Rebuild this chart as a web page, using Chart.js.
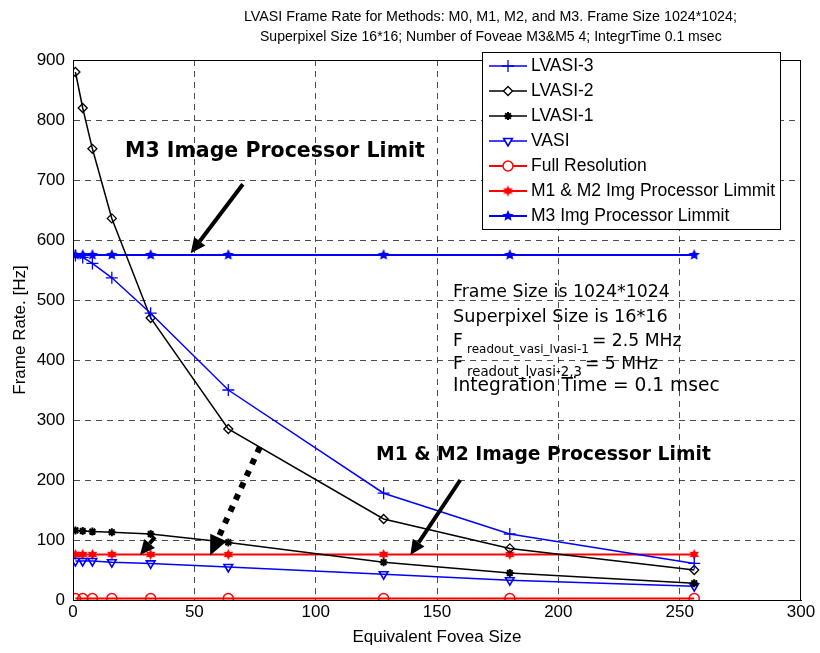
<!DOCTYPE html>
<html>
<head>
<meta charset="utf-8">
<script src="https://cdn.jsdelivr.net/npm/chart.js@4/dist/chart.umd.min.js"></script>
<style>
  html, body { margin: 0; padding: 0; background: #fff; }
  #wrap { width: 820px; height: 653px; }
</style>
</head>
<body>
<div id="wrap"><canvas id="rateChart" width="820" height="653"></canvas></div>
<script>
// data
const foveaSize = [1, 4, 8, 16, 32, 64, 128, 180, 256];
const lvasi3 = [574, 571, 561, 537, 478, 350, 178, 110, 61];
const lvasi2 = [880, 820, 752, 636, 470, 285, 135, 86, 50];
const lvasi1 = [116, 115, 114, 113, 110, 96, 63, 45, 28];
const vasi = [65, 65, 65, 63, 61, 55, 43, 33, 23];
const fullRes = [2.4, 2.4, 2.4, 2.4, 2.4, 2.4, 2.4, 2.4, 2.4];
const m12Limit = [76, 76, 76, 76, 76, 76, 76, 76, 76];
const m3Limit = [575, 575, 575, 575, 575, 575, 575, 575, 575];

const xTicks = [0, 50, 100, 150, 200, 250, 300];
const yTicks = [0, 100, 200, 300, 400, 500, 600, 700, 800, 900];

const titleLines = [
    'LVASI Frame Rate for Methods: M0, M1, M2, and M3. Frame Size 1024*1024;',
    'Superpixel Size 16*16; Number of Foveae M3&M5 4; IntegrTime 0.1 msec'
];

// arrows in data units: [fromX, fromY, toX, toY, dotted]
const arrows = [
    [70, 693, 48.5, 578, false],
    [159.6, 200, 139, 75, false],
    [33.8, 105, 27.6, 75, false],
    [77, 255, 56.5, 74, true]
];

// custom marker images
function starImage(points, color, outer, inner) {
    const size = outer * 2 + 2;
    const c = document.createElement('canvas');
    c.width = size; c.height = size;
    const g = c.getContext('2d');
    g.fillStyle = color;
    g.beginPath();
    for (let i = 0; i < points * 2; i++) {
        const r = i % 2 === 0 ? outer : inner;
        const a = -Math.PI / 2 + i * Math.PI / points;
        const px = size / 2 + r * Math.cos(a);
        const py = size / 2 + r * Math.sin(a);
        if (i === 0) g.moveTo(px, py); else g.lineTo(px, py);
    }
    g.closePath();
    g.fill();
    return c;
}
const pentagram = starImage(5, '#0000ff', 6, 2.8);
const hexagram = starImage(6, '#ff0000', 5.5, 3);

function series(label, data, color, style, extra) {
    return Object.assign({
        label: label,
        data: foveaSize.map((x, i) => ({ x: x, y: data[i] })),
        borderColor: color,
        backgroundColor: 'rgba(0,0,0,0)',
        pointBorderColor: color,
        pointBackgroundColor: 'rgba(0,0,0,0)',
        pointStyle: style,
        pointRadius: 4,
        pointBorderWidth: 1.3,
        borderWidth: 1.5,
        tension: 0,
        fill: false
    }, extra || {});
}

const datasets = [
    series('LVASI-3', lvasi3, '#0000ff', 'cross', { pointRadius: 6 }),
    series('LVASI-2', lvasi2, '#000000', 'rectRot', { pointRadius: 4.5 }),
    series('LVASI-1', lvasi1, '#000000', 'star', { pointRadius: 4, pointBorderWidth: 2 }),
    series('VASI', vasi, '#0000ff', 'triangle', { pointRadius: 5, pointRotation: 180, pointBorderWidth: 1.6 }),
    series('Full Resolution', fullRes, '#ff0000', 'circle', { pointRadius: 5, pointBorderWidth: 1.5, borderWidth: 2 }),
    series('M1 & M2 Img Processor Limmit', m12Limit, '#ff0000', hexagram, { borderWidth: 2 }),
    series('M3 Img Processor Limmit', m3Limit, '#0000ff', pentagram, { borderWidth: 2 })
];

function drawArrow(ctx, x1, y1, x2, y2, dotted) {
    const ang = Math.atan2(y2 - y1, x2 - x1);
    const headLen = dotted ? 20 : 15;
    const headW = dotted ? 9 : 7;
    const bx = x2 - headLen * Math.cos(ang);
    const by = y2 - headLen * Math.sin(ang);
    ctx.save();
    ctx.strokeStyle = '#000';
    ctx.fillStyle = '#000';
    ctx.lineWidth = dotted ? 6 : 4;
    if (dotted) ctx.setLineDash([6, 7]);
    ctx.beginPath();
    ctx.moveTo(x1, y1);
    ctx.lineTo(bx, by);
    ctx.stroke();
    ctx.setLineDash([]);
    ctx.beginPath();
    ctx.moveTo(x2, y2);
    ctx.lineTo(bx + headW * Math.sin(ang), by - headW * Math.cos(ang));
    ctx.lineTo(bx - headW * Math.sin(ang), by + headW * Math.cos(ang));
    ctx.closePath();
    ctx.fill();
    ctx.restore();
}

// draws text scaled so it takes the given width
function fitText(ctx, text, x, y, width, weight, family) {
    let size = 24;
    ctx.font = weight + ' ' + size + 'px ' + family;
    size = size * width / ctx.measureText(text).width;
    ctx.font = weight + ' ' + size + 'px ' + family;
    ctx.fillText(text, x, y);
}

const extrasPlugin = {
    id: 'extras',
    afterDraw(chart) {
        const ctx = chart.ctx;
        const area = chart.chartArea;
        const xs = chart.scales.x;
        const ys = chart.scales.y;

        // axes box
        ctx.save();
        ctx.strokeStyle = '#000';
        ctx.lineWidth = 1;
        ctx.strokeRect(area.left + 0.5, area.top + 0.5, area.right - area.left - 1, area.bottom - area.top);
        ctx.restore();

        // title
        ctx.save();
        ctx.fillStyle = '#000';
        ctx.textAlign = 'left';
        ctx.textBaseline = 'middle';
        const cx = (area.left + area.right) / 2;
        const narrow = '"Liberation Sans Narrow", "Liberation Sans", Arial, sans-serif';
        fitText(ctx, titleLines[0], cx - 193, 17, 493, 'normal', narrow);
        fitText(ctx, titleLines[1], cx - 177, 37, 462, 'normal', narrow);
        ctx.restore();

        // bold annotations
        ctx.save();
        ctx.fillStyle = '#000';
        ctx.textBaseline = 'middle';
        ctx.textAlign = 'left';
        fitText(ctx, 'M3 Image Processor Limit', 125, 152, 300, 'bold', '"DejaVu Sans", Verdana, sans-serif');
        fitText(ctx, 'M1 & M2 Image Processor Limit', 376, 455, 335, 'bold', '"DejaVu Sans", Verdana, sans-serif');
        ctx.restore();

        // arrows
        arrows.forEach(a => {
            drawArrow(ctx, xs.getPixelForValue(a[0]), ys.getPixelForValue(a[1]),
                xs.getPixelForValue(a[2]), ys.getPixelForValue(a[3]), a[4]);
        });

        // parameter text block
        ctx.save();
        ctx.fillStyle = '#000';
        ctx.textAlign = 'left';
        ctx.textBaseline = 'middle';
        const fam = '"DejaVu Sans", Tahoma, sans-serif';
        const tx = 453;
        function subLine(sub, subW, rest, restX, y) {
            ctx.font = '17.2px ' + fam;
            ctx.fillText('F', tx, y);
            fitText(ctx, sub, 467, y + 8, subW, 'normal', fam);
            ctx.font = '17.2px ' + fam;
            ctx.fillText(rest, restX, y);
        }
        fitText(ctx, 'Frame Size is 1024*1024', tx, 292, 217, 'normal', fam);
        fitText(ctx, 'Superpixel Size is 16*16', tx, 317, 215, 'normal', fam);
        subLine('readout_vasi_lvasi-1', 122, '= 2.5 MHz', 592, 342);
        subLine('readout_lvasi-2,3', 115, '= 5 MHz', 585, 365);
        fitText(ctx, 'Integration Time = 0.1 msec', tx, 386, 267, 'normal', fam);
        ctx.restore();

        // legend
        ctx.save();
        const lx = 482, ly = 52, lw = 298, lh = 177;
        ctx.fillStyle = '#fff';
        ctx.fillRect(lx, ly, lw, lh);
        ctx.strokeStyle = '#000';
        ctx.lineWidth = 1;
        ctx.strokeRect(lx + 0.5, ly + 0.5, lw, lh);
        ctx.textBaseline = 'middle';
        ctx.textAlign = 'left';
        chart.data.datasets.forEach((ds, i) => {
            const y = 66 + i * 25;
            ctx.strokeStyle = ds.borderColor;
            ctx.lineWidth = ds.borderWidth;
            ctx.beginPath();
            ctx.moveTo(489, y);
            ctx.lineTo(527, y);
            ctx.stroke();
            if (ds.pointStyle instanceof HTMLCanvasElement) {
                const img = ds.pointStyle;
                ctx.drawImage(img, 508 - img.width / 2, y - img.height / 2);
            } else if (Chart.helpers && Chart.helpers.drawPoint) {
                ctx.fillStyle = '#fff';
                ctx.strokeStyle = ds.pointBorderColor;
                ctx.lineWidth = ds.pointBorderWidth;
                Chart.helpers.drawPoint(ctx, {
                    pointStyle: ds.pointStyle,
                    rotation: ds.pointRotation || 0,
                    radius: ds.pointRadius,
                    borderWidth: ds.pointBorderWidth
                }, 508, y);
            }
            ctx.fillStyle = '#000';
            ctx.font = '17.5px "Liberation Sans", Arial, sans-serif';
            ctx.fillText(ds.label, 531, y);
        });
        ctx.restore();
    }
};

const tickFont = { family: '"Liberation Sans", Arial, sans-serif', size: 17 };
const gridColor = edge => c => (c.tick && c.tick.value === edge ? 'rgba(0,0,0,0)' : 'rgba(0,0,0,0.7)');

new Chart(document.getElementById('rateChart').getContext('2d'), {
    type: 'line',
    data: { datasets: datasets },
    options: {
        responsive: false,
        animation: false,
        layout: { padding: { top: 60, right: 19, left: 0, bottom: 0 } },
        plugins: {
            legend: { display: false },
            title: { display: false },
            tooltip: { enabled: false }
        },
        scales: {
            x: {
                type: 'linear',
                min: 0,
                max: 300,
                afterFit: scale => { scale.height = 53; },
                afterBuildTicks: scale => { scale.ticks = xTicks.map(v => ({ value: v })); },
                ticks: { font: tickFont, color: '#000', padding: 2, maxRotation: 0 },
                grid: { color: gridColor(300), lineWidth: 1, drawTicks: false },
                border: { display: true, color: '#000', dash: [6, 5] },
                title: { display: true, text: 'Equivalent Fovea Size', font: tickFont, color: '#000', padding: { top: 0, bottom: 5 } }
            },
            y: {
                type: 'linear',
                min: 0,
                max: 900,
                afterFit: scale => { scale.width = 73; },
                afterBuildTicks: scale => { scale.ticks = yTicks.map(v => ({ value: v })); },
                ticks: { font: tickFont, color: '#000', padding: 8 },
                grid: { color: gridColor(900), lineWidth: 1, drawTicks: false },
                border: { display: true, color: '#000', dash: [6, 5] },
                title: { display: true, text: 'Frame Rate. [Hz]', font: tickFont, color: '#000', padding: { top: 10, bottom: 0 } }
            }
        }
    },
    plugins: [extrasPlugin]
});
</script>
</body>
</html>
